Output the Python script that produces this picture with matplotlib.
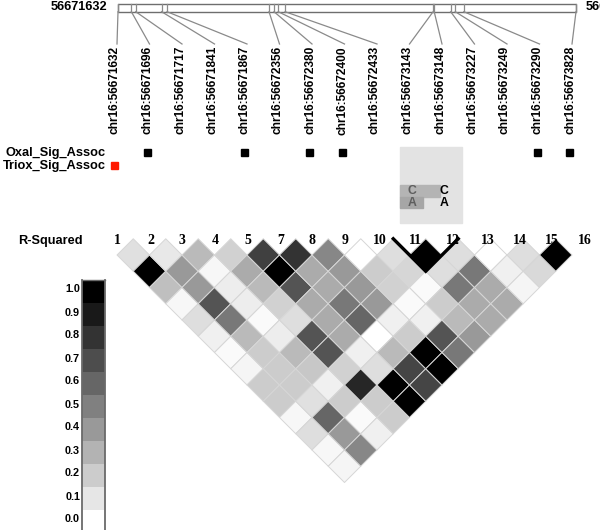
import numpy as np
import matplotlib
matplotlib.use("Agg")
import matplotlib.pyplot as plt
from matplotlib.patches import Rectangle
from matplotlib.collections import PolyCollection

# ---- data ----
snp_pos = [56671632, 56671696, 56671717, 56671841, 56671867, 56672356, 56672380,
           56672400, 56672433, 56673143, 56673148, 56673227, 56673249, 56673290,
           56673828]
snp_nums = ["1", "2", "3", "4", "5", "7", "8", "9", "10", "11", "12", "13",
            "14", "15", "16"]
oxal_sig = [0, 1, 0, 0, 1, 0, 1, 1, 0, 0, 0, 0, 0, 1, 1]
triox_sig = [1, 0, 0, 0, 0, 0, 0, 0, 0, 0, 0, 0, 0, 0, 0]

# upper triangle of the r^2 matrix, row i holds pairs (i, i+1), (i, i+2), ...
r2_rows = [
    [0.12, 1.00, 0.25, 0.03, 0.13, 0.06, 0.02, 0.04, 0.20, 0.20, 0.03, 0.13, 0.03, 0.04],
    [0.09, 0.40, 0.40, 0.67, 0.53, 0.27, 0.20, 0.20, 0.20, 0.12, 0.60, 0.40, 0.47],
    [0.27, 0.03, 0.07, 0.07, 0.02, 0.07, 0.27, 0.22, 0.06, 0.20, 0.02, 0.06],
    [0.18, 0.33, 0.27, 0.18, 0.13, 0.67, 0.67, 0.18, 0.85, 0.20, 0.20],
    [0.75, 1.00, 0.67, 0.33, 0.33, 0.33, 0.06, 0.13, 1.00, 1.00],
    [0.80, 0.33, 0.33, 0.53, 0.60, 0.00, 0.27, 0.73, 0.73],
    [0.47, 0.40, 0.40, 0.40, 0.06, 0.20, 1.00, 1.00],
    [0.00, 0.20, 0.18, 0.02, 0.06, 0.67, 0.53],
    [0.13, 0.16, 0.02, 0.20, 0.27, 0.40],
    [1.00, 0.13, 0.53, 0.33, 0.33],
    [0.13, 0.53, 0.33, 0.33],
    [0.00, 0.06, 0.04],
    [0.13, 0.15],
    [1.00],
]
ld_block = [9, 10]          # SNP indices inside the outlined block

hap_alleles = ["C", "A"]
hap_freq = [0.65, 0.37]

cbar_levels = [1.0, 0.9, 0.8, 0.7, 0.6, 0.5, 0.4, 0.3, 0.2, 0.1, 0.0]

# ---- layout (pixels) ----
W, H = 600, 530
x0, step = 117.0, 32.5       # first SNP x and SNP spacing in the triangle
half = step / 2
y0 = 255.0                   # centre of first diamond row
bar_x0, bar_x1, bar_y0, bar_y1 = 118, 576, 4, 11.7

bold = dict(family="Liberation Sans", weight="bold")

fig = plt.figure(figsize=(W / 100, H / 100), dpi=100)
ax = fig.add_axes([0, 0, 1, 1])
ax.set_xlim(0, W)
ax.set_ylim(H, 0)
ax.axis("off")

n = len(snp_pos)
snp_x = x0 + np.arange(n) * step

# ---- top position bar ----
ax.add_patch(Rectangle((bar_x0, bar_y0), bar_x1 - bar_x0, bar_y1 - bar_y0,
                       facecolor="white", edgecolor="#6e6e6e", lw=1.0))
gx = bar_x0 + (np.array(snp_pos) - snp_pos[0]) / (snp_pos[-1] - snp_pos[0]) * (bar_x1 - bar_x0)
for k in range(n):
    ax.plot([gx[k], gx[k]], [bar_y0, bar_y1], color="#8a8a8a", lw=0.9)
    ax.plot([gx[k], snp_x[k]], [bar_y1, 44], color="#8a8a8a", lw=0.9)
    ax.text(snp_x[k] - 2, 46, f"chr16:{snp_pos[k]}", rotation=90, ha="center",
            va="top", fontsize=8.6, **bold)
ax.text(107, 7.5, str(snp_pos[0]), ha="right", va="center", fontsize=9.2, **bold)
# the right-hand end label runs off the page, as in the original
ax.text(586, 7.5, str(snp_pos[-1]), ha="left", va="center", fontsize=9.2, **bold)

# ---- association tracks ----
ax.text(106, 153, "Oxal_Sig_Assoc", ha="right", va="center", fontsize=9.2, **bold)
ax.text(106, 166, "Triox_Sig_Assoc", ha="right", va="center", fontsize=9.2, **bold)
for k in range(n):
    if oxal_sig[k]:
        ax.add_patch(Rectangle((snp_x[k] - 6, 149), 7, 7, color="black"))
    if triox_sig[k]:
        ax.add_patch(Rectangle((snp_x[k] - 6.5, 161.5), 7, 7, color="#ff1a00"))

# ---- haplotype box ----
hb_x, hb_y, hb_w, hb_h = 400, 147, 62, 76
ax.add_patch(Rectangle((hb_x, hb_y), hb_w, hb_h, color="#e3e3e3"))
hap_cols = ["#b4b4b4", "#a6a6a6"]
for r, (al, fq) in enumerate(zip(hap_alleles, hap_freq)):
    yy = 185 + r * 11.5
    ax.add_patch(Rectangle((hb_x, yy), hb_w * fq, 11.5, color=hap_cols[r]))
    ax.text(412, yy + 6, al, ha="center", va="center", fontsize=8.8,
            color="#5e5e5e", **bold)
    ax.text(444, yy + 6, al, ha="center", va="center", fontsize=8.8,
            color="black", **bold)

# ---- LD triangle ----
ax.text(18, 241, "R-Squared", ha="left", va="center", fontsize=9.2, **bold)
label_nudge = [0, 1, 0, 1, 1, 1, 0, 1, 2.5, 6, 11, 13, 13, 12, 13]
for k in range(n):
    ax.text(snp_x[k] + label_nudge[k], 241, snp_nums[k], ha="center", va="center",
            fontsize=10, family="Liberation Serif", weight="bold")

polys, cols = [], []
for i, row in enumerate(r2_rows):
    for d, v in enumerate(row, start=1):
        j = i + d
        cx = x0 + (i + j) * half
        cy = y0 + (d - 1) * half
        polys.append([(cx, cy - half), (cx + half, cy), (cx, cy + half), (cx - half, cy)])
        g = 1.0 - v
        cols.append((g, g, g))
ax.add_collection(PolyCollection(polys, facecolors=cols, edgecolors="#d6d6d6",
                                 linewidths=0.7))

# block outline
b0, b1 = ld_block[0], ld_block[-1]
top_y = y0 - half
xl = x0 + (b0 - 0.5) * step
xr = x0 + (b1 + 0.5) * step
xb = (xl + xr) / 2
yb = top_y + (xr - xl) / 2
ax.plot([xl, xb, xr], [top_y, yb, top_y], color="black", lw=2.4,
        solid_joinstyle="miter")

# ---- colour key ----
cb_x0, cb_x1, cb_top, seg = 82, 105, 280, 23
for s, lev in enumerate(cbar_levels):
    g = 1.0 - lev
    ax.add_patch(Rectangle((cb_x0, cb_top + s * seg), cb_x1 - cb_x0, seg,
                           color=(g, g, g), lw=0))
    ax.text(80, cb_top + s * seg + seg / 2 - 2, f"{lev:.1f}", ha="right",
            va="center", fontsize=7.8, **bold)
ax.plot([cb_x0, cb_x0], [cb_top, H], color="#6a6a6a", lw=1.3)
ax.plot([cb_x1, cb_x1], [cb_top, H], color="#6a6a6a", lw=1.3)
ax.plot([cb_x0, cb_x1], [cb_top, cb_top], color="#6a6a6a", lw=1.0)

fig.savefig("out.png", dpi=100)
